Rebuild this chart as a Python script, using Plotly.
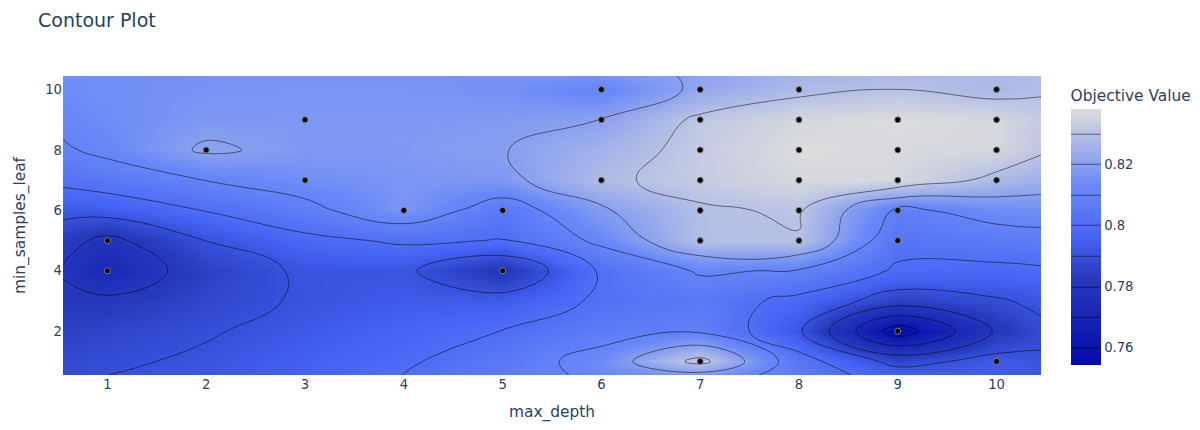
import plotly.graph_objects as go

# trials: (max_depth, min_samples_leaf) -> objective value
max_depth = [1, 1, 2, 3, 3, 4, 5, 5, 6, 6, 6,
             7, 7, 7, 7, 7, 7, 7,
             8, 8, 8, 8, 8, 8,
             9, 9, 9, 9, 9, 9,
             10, 10, 10, 10, 10]
min_samples_leaf = [4, 5, 8, 7, 9, 6, 4, 6, 7, 9, 10,
                    1, 5, 6, 7, 8, 9, 10,
                    5, 6, 7, 8, 9, 10,
                    2, 5, 6, 7, 8, 9,
                    1, 7, 8, 9, 10]
objective_value = [0.7721, 0.7775, 0.8213, 0.8144, 0.8173, 0.8168, 0.7803, 0.8048, 0.8284, 0.8201, 0.8110,
                   0.8330, 0.8290, 0.8290, 0.8329, 0.8330, 0.8318, 0.8220,
                   0.8295, 0.8309, 0.8366, 0.8380, 0.8363, 0.8279,
                   0.7544, 0.8030, 0.8080, 0.8368, 0.8370, 0.8380,
                   0.7931, 0.8275, 0.8365, 0.8365, 0.8270]

# grid = unique values padded by 5% on each side, gaps filled by plotly (connectgaps)
x_grid = [0.55, 1, 2, 3, 4, 5, 6, 7, 8, 9, 10, 10.45]
y_grid = [0.55, 1, 2, 3, 4, 5, 6, 7, 8, 9, 10, 10.45]
z = [[None] * len(x_grid) for _ in y_grid]
for xv, yv, v in zip(max_depth, min_samples_leaf, objective_value):
    z[y_grid.index(yv)][x_grid.index(xv)] = v

blues = [[0, 'rgb(5,10,172)'], [0.35, 'rgb(40,60,190)'], [0.5, 'rgb(70,100,245)'],
         [0.6, 'rgb(90,120,245)'], [0.7, 'rgb(106,137,247)'], [1, 'rgb(220,220,220)']]

fig = go.Figure()
fig.add_trace(go.Contour(
    x=x_grid,
    y=y_grid,
    z=z,
    colorscale=blues,
    colorbar=dict(title=dict(text="Objective Value", font=dict(size=15.4)),
                  tickfont=dict(size=13.2)),
    connectgaps=True,
    contours_coloring="heatmap",
    hoverinfo="none",
    line_smoothing=1.3,
))
fig.add_trace(go.Scatter(
    x=max_depth,
    y=min_samples_leaf,
    mode="markers",
    marker=dict(size=6, color="black", line=dict(width=1, color="Grey")),
    showlegend=False,
))

# page body adds an 8px offset, so margins are shifted to line up with the target
fig.update_layout(
    title=dict(text="Contour Plot", font=dict(size=19), x=30 / 1215, xanchor="left",
               y=1 - 12 / 422, yanchor="middle"),
    font=dict(family="Verdana, DejaVu Sans, sans-serif", size=13.2),
    xaxis=dict(title=dict(text="max_depth", font=dict(size=15.4)), range=[0.55, 10.45]),
    yaxis=dict(title=dict(text="min_samples_leaf", font=dict(size=15.4)), range=[0.55, 10.45]),
    width=1215,
    height=422,
    margin=dict(l=55, r=182, t=68, b=55),
)

fig.write_html("out.html")
